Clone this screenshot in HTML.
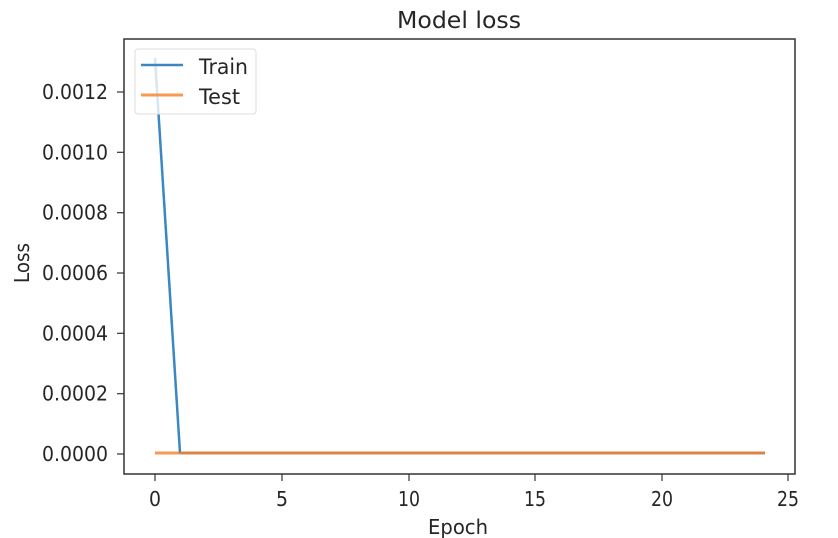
<!DOCTYPE html>
<html><head><meta charset="utf-8"><style>body{margin:0;background:#fff}svg{display:block}</style></head>
<body>
<svg width="838" height="538" xmlns="http://www.w3.org/2000/svg" font-family="DejaVu Sans, Liberation Sans, sans-serif" fill="#262626">
<rect width="838" height="538" fill="#fff"/>
<text x="397" y="28" font-size="23" textLength="124" lengthAdjust="spacingAndGlyphs">Model loss</text>
<!-- series -->
<polyline points="155,453 765,453" fill="none" stroke="#f79a4f" stroke-width="3"/>
<polyline points="155,58 180,453" fill="none" stroke="#3a87c3" stroke-width="2.5"/>
<polyline points="180,453 765,453" fill="none" stroke="#d98545" stroke-width="3"/>
<!-- axes -->
<rect x="124" y="39" width="671" height="435" fill="none" stroke="#333" stroke-width="1.5"/>
<g stroke="#333" stroke-width="1.2">
<line x1="155" y1="474" x2="155" y2="481"/><line x1="282" y1="474" x2="282" y2="481"/>
<line x1="409" y1="474" x2="409" y2="481"/><line x1="535" y1="474" x2="535" y2="481"/>
<line x1="662" y1="474" x2="662" y2="481"/><line x1="788" y1="474" x2="788" y2="481"/>
<line x1="117" y1="454" x2="124" y2="454"/><line x1="117" y1="393.7" x2="124" y2="393.7"/>
<line x1="117" y1="333.3" x2="124" y2="333.3"/><line x1="117" y1="273" x2="124" y2="273"/>
<line x1="117" y1="212.7" x2="124" y2="212.7"/><line x1="117" y1="152.3" x2="124" y2="152.3"/>
<line x1="117" y1="92" x2="124" y2="92"/>
</g>
<g font-size="20">
<text x="149" y="506" textLength="12" lengthAdjust="spacingAndGlyphs">0</text>
<text x="276" y="506" textLength="12" lengthAdjust="spacingAndGlyphs">5</text>
<text x="398" y="506" textLength="22" lengthAdjust="spacingAndGlyphs">10</text>
<text x="524" y="506" textLength="22" lengthAdjust="spacingAndGlyphs">15</text>
<text x="651" y="506" textLength="22" lengthAdjust="spacingAndGlyphs">20</text>
<text x="777" y="506" textLength="22" lengthAdjust="spacingAndGlyphs">25</text>
</g>
<g font-size="20">
<text x="42" y="461" textLength="66" lengthAdjust="spacingAndGlyphs">0.0000</text>
<text x="42" y="400.7" textLength="66" lengthAdjust="spacingAndGlyphs">0.0002</text>
<text x="42" y="340.3" textLength="66" lengthAdjust="spacingAndGlyphs">0.0004</text>
<text x="42" y="280" textLength="66" lengthAdjust="spacingAndGlyphs">0.0006</text>
<text x="42" y="219.7" textLength="66" lengthAdjust="spacingAndGlyphs">0.0008</text>
<text x="42" y="159.3" textLength="66" lengthAdjust="spacingAndGlyphs">0.0010</text>
<text x="42" y="99" textLength="66" lengthAdjust="spacingAndGlyphs">0.0012</text>
</g>
<text x="428" y="534" font-size="20" textLength="60" lengthAdjust="spacingAndGlyphs">Epoch</text>
<text transform="translate(29,283) rotate(-90)" font-size="20" textLength="40" lengthAdjust="spacingAndGlyphs">Loss</text>
<!-- legend -->
<rect x="135" y="49" width="121" height="65" rx="3" fill="#fff" fill-opacity="0.8" stroke="#ddd"/>
<line x1="141" y1="65" x2="183" y2="65" stroke="#3a87c3" stroke-width="2.5"/>
<line x1="141" y1="95" x2="183" y2="95" stroke="#f79a4f" stroke-width="3"/>
<text x="199" y="74" font-size="21" textLength="49" lengthAdjust="spacingAndGlyphs">Train</text>
<text x="199" y="104" font-size="21" textLength="41" lengthAdjust="spacingAndGlyphs">Test</text>
</svg>
</body></html>
